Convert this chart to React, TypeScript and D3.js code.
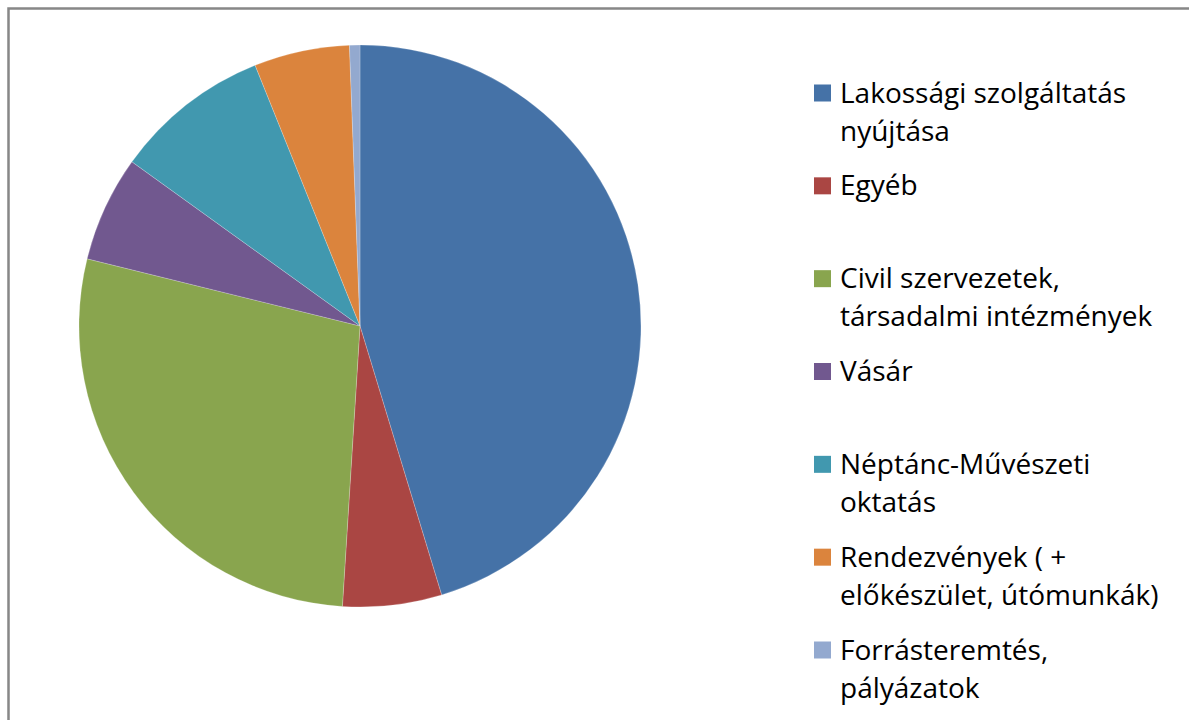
import { useEffect, useRef } from 'react';
import * as d3 from 'd3';

const categories = [
  ['Lakossági szolgáltatás', 'nyújtása'],
  ['Egyéb'],
  ['Civil szervezetek,', 'társadalmi intézmények'],
  ['Vásár'],
  ['Néptánc-Művészeti', 'oktatás'],
  ['Rendezvények ( +', 'előkészület, útómunkák)'],
  ['Forrásteremtés,', 'pályázatok'],
];
const values = [45.4, 5.7, 27.9, 6.1, 9.0, 5.5, 0.6];
const colors = ['#4572A7', '#AA4643', '#89A54E', '#71588F', '#4198AF', '#DB843D', '#93A9CF'];

const WIDTH = 1189;
const HEIGHT = 720;

export default function App() {
  const ref = useRef<SVGSVGElement | null>(null);

  useEffect(() => {
    if (!ref.current) return;
    const svg = d3.select(ref.current);
    svg.selectAll('*').remove();

    // chart frame (runs off the right/bottom edge)
    svg
      .append('rect')
      .attr('x', 8.5)
      .attr('y', 8.5)
      .attr('width', WIDTH + 100)
      .attr('height', HEIGHT + 100)
      .attr('fill', '#fff')
      .attr('stroke', '#878787')
      .attr('stroke-width', 2.5);

    const cx = 360;
    const cy = 326;
    const radius = 281;

    const pie = d3
      .pie<number>()
      .sort(null)
      .value((d) => d);
    const arc = d3.arc<d3.PieArcDatum<number>>().innerRadius(0).outerRadius(radius);

    const g = svg.append('g').attr('transform', `translate(${cx},${cy})`);
    g.selectAll('path')
      .data(pie(values))
      .enter()
      .append('path')
      .attr('d', arc)
      .attr('fill', (d, i) => colors[i])
      .attr('stroke', 'rgba(255,255,255,0.35)')
      .attr('stroke-width', 0.6);

    // legend
    const y = d3
      .scaleLinear()
      .domain([0, categories.length - 1])
      .range([93, 650]);

    const legend = svg
      .selectAll('g.legend')
      .data(categories)
      .enter()
      .append('g')
      .attr('class', 'legend')
      .attr('transform', (d, i) => `translate(814,${y(i)})`);

    legend
      .append('rect')
      .attr('x', 0)
      .attr('y', -8.5)
      .attr('width', 17)
      .attr('height', 17)
      .attr('fill', (d, i) => colors[i]);

    legend
      .append('text')
      .attr('x', 26)
      .style('font-family', '"Open Sans", Lato, sans-serif')
      .style('font-size', '28px')
      .style('fill', '#000')
      .selectAll('tspan')
      .data((d) => d)
      .enter()
      .append('tspan')
      .attr('x', 26)
      .attr('y', (d, j) => 9.5 + j * 38)
      .text((d) => d);
  }, []);

  return (
    <svg
      ref={ref}
      width={WIDTH}
      height={HEIGHT}
      style={{ position: 'absolute', left: 0, top: 0, display: 'block' }}
    />
  );
}
